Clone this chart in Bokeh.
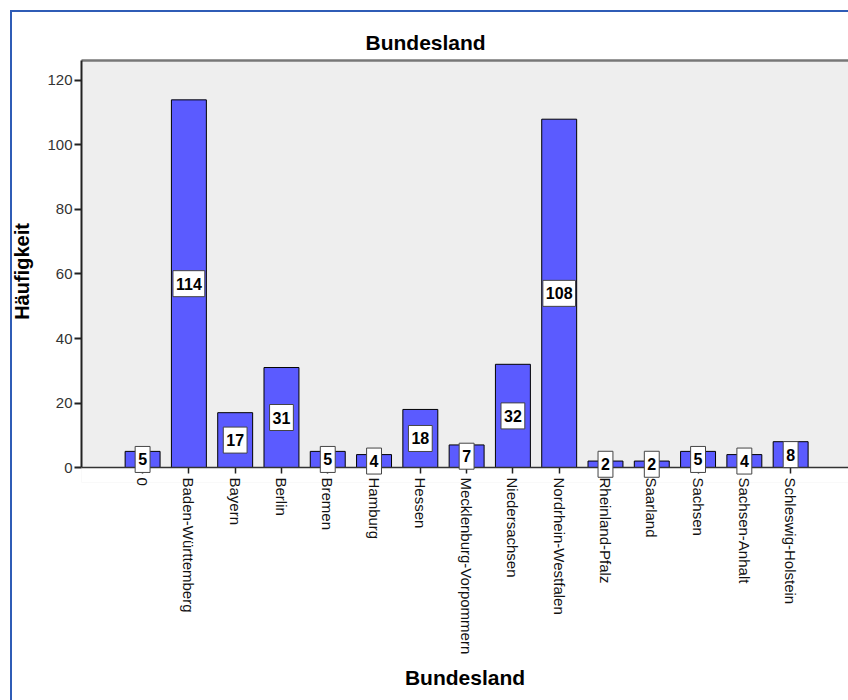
import math
from bokeh.plotting import figure
from bokeh.models import (Range1d, FixedTicker, LinearAxis, ColumnDataSource, Title,
                          Label, BoxAnnotation, Span)
from bokeh.embed import file_html
from bokeh.resources import INLINE

# Häufigkeiten je Bundesland
bundeslaender = [
    "0", "Baden-Württemberg", "Bayern", "Berlin", "Bremen", "Hamburg",
    "Hessen", "Mecklenburg-Vorpommern", "Niedersachsen", "Nordrhein-Westfalen",
    "Rheinland-Pfalz", "Saarland", "Sachsen", "Sachsen-Anhalt", "Schleswig-Holstein",
]
haeufigkeit = [5, 114, 17, 31, 5, 4, 18, 7, 32, 108, 2, 2, 5, 4, 8]
y_ticks = [0, 20, 40, 60, 80, 100, 120]

FONT = "Liberation Sans"
BLUE = "#2f5cb6"
positions = list(range(len(bundeslaender)))

src = ColumnDataSource(dict(x=positions, top=haeufigkeit))

# blauer Rahmen um die gesamte Grafik (links und oben) als CSS-Hintergrund
frame_bg = (
    f"linear-gradient({BLUE},{BLUE}) 10px 10px / 2px 690px no-repeat, "
    f"linear-gradient({BLUE},{BLUE}) 10px 10px / 838px 2px no-repeat, white"
)

p = figure(
    width=848, height=700,
    x_range=Range1d(-1.32, 15.25), y_range=Range1d(-4.65, 126.2),
    output_backend="svg", toolbar_location=None,
    min_border_left=81, min_border_top=60, min_border_bottom=218, min_border_right=0,
    styles={"background": frame_bg},
)
p.background_fill_color = "#eeeeee"
p.border_fill_alpha = 0
p.outline_line_color = None
p.grid.visible = False

p.title = Title(text="Bundesland", align="left", offset=284,
                text_font=FONT, text_font_size="21px", text_font_style="bold",
                text_color="black", standoff=13)

# weißer Bereich unterhalb der Nulllinie
p.add_layout(BoxAnnotation(top=0, fill_color="white", fill_alpha=1,
                           line_color="white", line_width=1, level="underlay"))

# Balken
p.vbar(x="x", top="top", width=0.755, source=src,
       fill_color="#5b5bff", line_color="black", line_width=1)

# Nulllinie
p.add_layout(Span(location=0, dimension="width", line_color="#333333", line_width=1.5))

# Wertebeschriftung in der Balkenmitte
for xi, h in zip(positions, haeufigkeit):
    p.add_layout(Label(
        x=xi, y=h / 2, text=str(h),
        text_align="center", text_baseline="middle",
        text_font=FONT, text_font_size="16px", text_font_style="bold",
        text_color="black",
        background_fill_color="white", border_line_color="#444444",
        border_line_width=1, padding=(3, 3, 7, 7),
    ))

# x-Achse: Striche reichen von der Nulllinie ein Stück nach unten
xa = p.xaxis[0]
xa.ticker = FixedTicker(ticks=positions)
xa.major_label_overrides = {i: n for i, n in zip(positions, bundeslaender)}
xa.major_label_orientation = -math.pi / 2
xa.major_label_text_font = FONT
xa.major_label_text_font_size = "15px"
xa.major_label_text_color = "#111111"
xa.major_label_standoff = -5
xa.major_tick_in = 15
xa.major_tick_out = -9
xa.minor_tick_line_color = None
xa.axis_line_color = None
xa.major_tick_line_color = "#222222"
xa.major_tick_line_width = 1.5
xa.axis_label = "Bundesland"
xa.axis_label_text_font = FONT
xa.axis_label_text_font_size = "21px"
xa.axis_label_text_font_style = "bold"
xa.axis_label_text_color = "black"
xa.axis_label_standoff = 9

# y-Achse
ya = p.yaxis[0]
ya.bounds = (0, 126.2)
ya.ticker = FixedTicker(ticks=y_ticks)
ya.major_label_text_font = FONT
ya.major_label_text_font_size = "15px"
ya.major_label_text_color = "#333333"
ya.major_label_standoff = 2
ya.major_tick_out = 7
ya.major_tick_in = 0
ya.minor_tick_line_color = None
ya.axis_line_color = "#222222"
ya.axis_line_width = 2
ya.major_tick_line_color = "#222222"
ya.major_tick_line_width = 2
ya.axis_label = "Häufigkeit"
ya.axis_label_text_font = FONT
ya.axis_label_text_font_size = "20px"
ya.axis_label_text_font_style = "bold"
ya.axis_label_text_color = "black"
ya.axis_label_standoff = 11

# obere Rahmenlinie des Diagrammbereichs
top_line = LinearAxis(ticker=FixedTicker(ticks=[]), axis_line_color="#777777",
                      axis_line_width=2.5, major_tick_line_color=None,
                      minor_tick_line_color=None, major_label_text_font_size="0px")
p.add_layout(top_line, "above")

open("out.html", "w").write(file_html(p, INLINE))
